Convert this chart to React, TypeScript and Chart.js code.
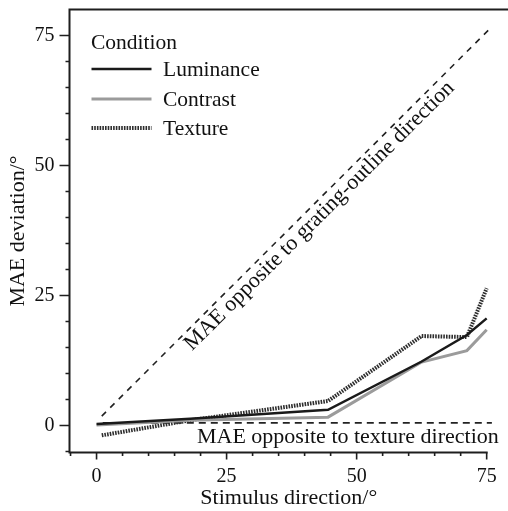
import { useEffect, useRef } from "react";
import { Chart, registerables } from "chart.js";

Chart.register(...registerables);

// ---- data ----
const seriesNames = ["Luminance", "Contrast", "Texture"];
const luminanceX = [0, 18, 44.5, 62.5, 71.2, 75];
const luminanceY = [0.3, 1.3, 3.0, 12.3, 17.4, 20.6];
const contrastX = [0, 18, 44.5, 62.5, 71.2, 75];
const contrastY = [0.1, 1.0, 1.6, 12.2, 14.4, 18.4];
const textureX = [1, 18, 44.5, 62.5, 71.2, 75];
const textureY = [-1.9, 1.0, 4.7, 17.2, 17.0, 26.4];
const gratingRefX = [1, 75.3];
const gratingRefY = [1.8, 76];
const textureRefX = [1.2, 76];
const textureRefY = [0.5, 0.5];
const xMajorTicks = [0, 25, 50, 75];
const xMinorTicks = [-5, 5, 10, 15, 20, 30, 35, 40, 45, 55, 60, 65, 70];
const yMajorTicks = [0, 25, 50, 75];
const yMinorTicks = [-5, 5, 10, 15, 20, 30, 35, 40, 45, 55, 60, 65, 70];
const xTitle = "Stimulus direction/°";
const yTitle = "MAE deviation/°";
const legendTitle = "Condition";
const gratingNote = "MAE opposite to grating-outline direction";
const gratingNoteAtX = 41.2;
const textureNote = "MAE opposite to texture direction";
const textureNoteAt = [19.3, -3.3];

const FAMILY = "'Liberation Serif', 'Times New Roman', serif";
const INK = "#1e1e1e";

const pts = (xs: number[], ys: number[]) => xs.map((x, i) => ({ x, y: ys[i] }));

const decorPlugin = {
  id: "decor",
  afterDraw(chart: any) {
    const { ctx, chartArea: a } = chart;
    const xs = chart.scales.x;
    const ys = chart.scales.y;
    ctx.save();
    ctx.strokeStyle = INK;
    ctx.lineCap = "butt";
    ctx.setLineDash([]);
    // frame lines
    ctx.lineWidth = 2;
    ctx.beginPath();
    ctx.moveTo(a.left - 1, a.top);
    ctx.lineTo(a.right, a.top);
    ctx.moveTo(a.left, a.top);
    ctx.lineTo(a.left, a.bottom + 1);
    ctx.moveTo(a.left - 1, a.bottom);
    ctx.lineTo(xs.getPixelForValue(xMajorTicks[xMajorTicks.length - 1]) + 1, a.bottom);
    ctx.stroke();
    // ticks
    ctx.lineWidth = 1.6;
    ctx.beginPath();
    xMajorTicks.forEach((v) => {
      const px = xs.getPixelForValue(v);
      ctx.moveTo(px, a.bottom);
      ctx.lineTo(px, a.bottom + 7);
    });
    xMinorTicks.forEach((v) => {
      const px = xs.getPixelForValue(v);
      ctx.moveTo(px, a.bottom);
      ctx.lineTo(px, a.bottom + 3.5);
    });
    yMajorTicks.forEach((v) => {
      const py = ys.getPixelForValue(v);
      ctx.moveTo(a.left, py);
      ctx.lineTo(a.left - 10, py);
    });
    yMinorTicks.forEach((v) => {
      const py = ys.getPixelForValue(v);
      ctx.moveTo(a.left, py);
      ctx.lineTo(a.left - 4, py);
    });
    ctx.stroke();

    // legend
    const ds = chart.data.datasets;
    ctx.fillStyle = "#111";
    ctx.font = `21.5px ${FAMILY}`;
    ctx.textAlign = "left";
    ctx.textBaseline = "alphabetic";
    ctx.fillText(legendTitle, a.left + 21.5, a.top + 39);
    const rowY = [59.5, 89.5, 118.5];
    seriesNames.forEach((name, i) => {
      const d = ds[i];
      const yy = a.top + rowY[i];
      ctx.save();
      ctx.strokeStyle = d.borderColor;
      ctx.lineWidth = d.borderWidth;
      ctx.setLineDash(d.borderDash || []);
      ctx.beginPath();
      ctx.moveTo(a.left + 22, yy);
      ctx.lineTo(a.left + 82, yy);
      ctx.stroke();
      ctx.restore();
      ctx.fillText(name, a.left + 93.5, yy + 6.5);
    });

    // diagonal note
    const p1x = xs.getPixelForValue(gratingRefX[0]);
    const p1y = ys.getPixelForValue(gratingRefY[0]);
    const p2x = xs.getPixelForValue(gratingRefX[1]);
    const p2y = ys.getPixelForValue(gratingRefY[1]);
    const ang = Math.atan2(p2y - p1y, p2x - p1x);
    const t = (gratingNoteAtX - gratingRefX[0]) / (gratingRefX[1] - gratingRefX[0]);
    const ax = p1x + (p2x - p1x) * t;
    const ay = p1y + (p2y - p1y) * t;
    const off = 18;
    ctx.save();
    ctx.translate(ax - Math.sin(ang) * off, ay + Math.cos(ang) * off);
    ctx.rotate(ang);
    ctx.font = `22px ${FAMILY}`;
    ctx.textAlign = "center";
    ctx.textBaseline = "alphabetic";
    ctx.fillText(gratingNote, 0, 0);
    ctx.restore();

    // horizontal note
    ctx.font = `22px ${FAMILY}`;
    ctx.textAlign = "left";
    ctx.textBaseline = "alphabetic";
    ctx.fillText(
      textureNote,
      xs.getPixelForValue(textureNoteAt[0]),
      ys.getPixelForValue(textureNoteAt[1])
    );
    ctx.restore();
  },
};

export default function App() {
  const ref = useRef<HTMLCanvasElement | null>(null);
  useEffect(() => {
    if (!ref.current) return;
    const chart = new Chart(ref.current, {
      type: "line",
      data: {
        datasets: [
          {
            label: seriesNames[0],
            data: pts(luminanceX, luminanceY),
            borderColor: "#1a1a1a",
            borderWidth: 2.5,
            pointRadius: 0,
            tension: 0,
          },
          {
            label: seriesNames[1],
            data: pts(contrastX, contrastY),
            borderColor: "#9b9b9b",
            borderWidth: 3,
            pointRadius: 0,
            tension: 0,
          },
          {
            label: seriesNames[2],
            data: pts(textureX, textureY),
            borderColor: "#2e2e2e",
            borderWidth: 4,
            borderDash: [1.6, 1.1],
            pointRadius: 0,
            tension: 0,
          },
          {
            label: "grating-outline reference",
            data: pts(gratingRefX, gratingRefY),
            borderColor: "#222",
            borderWidth: 1.6,
            borderDash: [6, 6],
            pointRadius: 0,
            tension: 0,
          },
          {
            label: "texture reference",
            data: pts(textureRefX, textureRefY),
            borderColor: "#222",
            borderWidth: 1.6,
            borderDash: [7, 5],
            pointRadius: 0,
            tension: 0,
          },
        ],
      },
      options: {
        animation: false,
        responsive: false,
        layout: { padding: { top: 9.5, left: 0, right: 0, bottom: 0 } },
        plugins: { legend: { display: false }, tooltip: { enabled: false } },
        scales: {
          x: {
            type: "linear",
            min: -5.2,
            max: 79.1,
            grid: { display: false },
            border: { display: false },
            afterBuildTicks: (s: any) => {
              s.ticks = xMajorTicks.map((v) => ({ value: v }));
            },
            afterFit: (s: any) => {
              s.height = 58.5;
              s.paddingLeft = 0;
              s.paddingRight = 0;
            },
            ticks: {
              padding: 4,
              color: "#111",
              maxRotation: 0,
              autoSkip: false,
              font: { family: FAMILY, size: 20 },
            },
            title: {
              display: true,
              text: xTitle,
              color: "#111",
              font: { family: FAMILY, size: 22, lineHeight: 1 },
              padding: { top: 0, bottom: 1.5 },
            },
          },
          y: {
            type: "linear",
            min: -5.2,
            max: 80,
            grid: { display: false },
            border: { display: false },
            afterBuildTicks: (s: any) => {
              s.ticks = yMajorTicks.map((v) => ({ value: v }));
            },
            afterFit: (s: any) => {
              s.width = 69.5;
              s.paddingTop = 0;
              s.paddingBottom = 0;
            },
            ticks: {
              padding: 7,
              color: "#111",
              autoSkip: false,
              font: { family: FAMILY, size: 20 },
            },
            title: {
              display: true,
              text: yTitle,
              color: "#111",
              font: { family: FAMILY, size: 22, lineHeight: 1 },
              padding: { top: 7.7, bottom: 0 },
            },
          },
        },
      },
      plugins: [decorPlugin],
    });
    return () => chart.destroy();
  }, []);
  return (
    <div style={{ position: "absolute", left: 0, top: 0, width: 508, height: 511, background: "#fff" }}>
      <canvas ref={ref} width={508} height={511} style={{ display: "block" }} />
    </div>
  );
}
